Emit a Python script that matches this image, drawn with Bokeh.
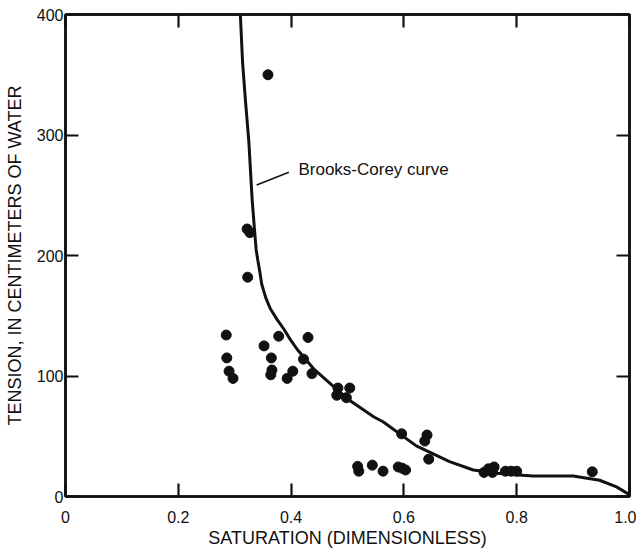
from bokeh.plotting import figure
from bokeh.models import Range1d, FixedTicker, LinearAxis, Label
from bokeh.embed import file_html
from bokeh.resources import INLINE

# ---- data ----
sat = [0.359, 0.322, 0.327, 0.323, 0.285, 0.286, 0.290, 0.297, 0.352, 0.378,
       0.365, 0.366, 0.364, 0.393, 0.403, 0.430, 0.422, 0.437,
       0.483, 0.504, 0.481, 0.498, 0.596, 0.641, 0.637, 0.644,
       0.518, 0.520, 0.544, 0.563, 0.590, 0.597, 0.603,
       0.742, 0.750, 0.760, 0.757, 0.780, 0.790, 0.800, 0.934]
tension = [350, 222, 219, 182, 134, 115, 104, 98, 125, 133,
           115, 105, 101, 98, 104, 132, 114, 102,
           90, 90, 84, 82, 52, 51, 46, 31,
           25, 21, 26, 21, 24.5, 23.5, 22,
           20, 23, 24.5, 20, 21, 21, 21, 20.5]

curve_x = [0.310, 0.314, 0.319, 0.325, 0.331, 0.335, 0.338, 0.341, 0.344, 0.348,
           0.355, 0.363, 0.375, 0.387, 0.399, 0.411, 0.440, 0.476, 0.506, 0.547,
           0.563, 0.622, 0.681, 0.723, 0.770, 0.829, 0.900, 0.947, 0.977, 1.0]
curve_y = [400, 360, 329, 295, 246, 222, 205, 196, 188, 176,
           165, 156, 147, 139, 130, 122, 106, 91, 79, 66,
           62, 42, 29, 22, 19, 17, 17, 13.5, 8, 1.5]

x_ticks = [0, 0.2, 0.4, 0.6, 0.8, 1.0]
x_tick_labels = ["0", "0.2", "0.4", "0.6", "0.8", "1.0"]
y_ticks = [0, 100, 200, 300, 400]
y_tick_labels = ["0", "100", "200", "300", "400"]

x_title = "SATURATION (DIMENSIONLESS)"
y_title = "TENSION, IN CENTIMETERS OF WATER"
curve_label = "Brooks-Corey curve"
label_pos = (0.413, 271)
leader_x = [0.339, 0.396]
leader_y = [258.5, 269]

FONT = "Liberation Sans"
INK = "#111111"

p = figure(width=636, height=550, x_range=Range1d(0, 1), y_range=Range1d(0, 400),
           output_backend="svg", toolbar_location=None,
           min_border_left=65, min_border_right=7, min_border_top=14, min_border_bottom=52)
p.xgrid.visible = False
p.ygrid.visible = False
p.outline_line_color = INK
p.outline_line_width = 2.5
p.background_fill_color = "white"
p.border_fill_color = "white"

def style(ax, ticks, labels, show_labels):
    ax.ticker = FixedTicker(ticks=ticks)
    ax.minor_tick_line_color = None
    ax.major_tick_in = 13
    ax.major_tick_out = 0
    ax.major_tick_line_width = 2.2
    ax.major_tick_line_color = INK
    ax.axis_line_width = 2.5
    ax.axis_line_color = INK
    ax.major_label_text_font = FONT
    ax.major_label_text_color = INK
    ax.axis_label_text_font = FONT
    ax.axis_label_text_color = INK
    ax.axis_label_text_font_style = "normal"
    ax.major_label_text_font_size = "16px"
    ax.axis_label_text_font_size = "18px"
    if show_labels:
        ax.major_label_overrides = {t: l for t, l in zip(ticks, labels)}
    else:
        ax.major_label_overrides = {t: "" for t in ticks}
        ax.major_label_standoff = 0

xa = p.xaxis[0]
style(xa, x_ticks, x_tick_labels, True)
xa.axis_label = x_title
xa.major_label_standoff = 14
xa.axis_label_standoff = 2

ya = p.yaxis[0]
style(ya, y_ticks, y_tick_labels, True)
ya.axis_label = y_title
ya.major_label_standoff = 2
ya.axis_label_standoff = 9

top = LinearAxis()
style(top, x_ticks, x_tick_labels, False)
p.add_layout(top, "above")
right = LinearAxis()
style(right, y_ticks, y_tick_labels, False)
p.add_layout(right, "right")

p.line(curve_x, curve_y, line_color=INK, line_width=3)
p.scatter(sat, tension, size=10, fill_color=INK, line_color=INK)
p.line(leader_x, leader_y, line_color=INK, line_width=1.6)

p.add_layout(Label(x=label_pos[0], y=label_pos[1], text=curve_label,
                   text_font=FONT, text_font_size="17px", text_color=INK,
                   text_baseline="middle", text_align="left"))

open("out.html", "w").write(file_html(p, INLINE))
